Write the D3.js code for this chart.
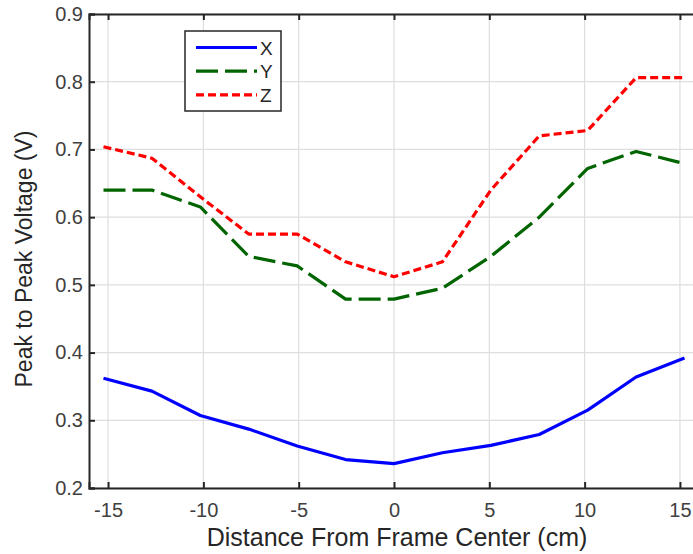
<!DOCTYPE html>
<html>
<head>
<meta charset="utf-8">
<script src="https://cdn.jsdelivr.net/npm/d3@7"></script>
<style>
  body { margin: 0; background: #fff; }
  svg { font-family: "Liberation Sans", Arial, sans-serif; }
</style>
</head>
<body>
<div id="chart"></div>
<script>
// ===========Data (positions in cm, 1 inch steps)
var distances = [-15.24, -12.7, -10.16, -7.62, -5.08, -2.54, 0, 2.54, 5.08, 7.62, 10.16, 12.7, 15.24];
var xValues = [0.362, 0.343, 0.307, 0.287, 0.262, 0.242, 0.236, 0.252, 0.263, 0.279, 0.315, 0.364, 0.392];
var yValues = [0.640, 0.640, 0.615, 0.542, 0.528, 0.479, 0.479, 0.495, 0.542, 0.600, 0.672, 0.697, 0.679];
var zValues = [0.704, 0.687, 0.630, 0.575, 0.575, 0.534, 0.512, 0.534, 0.640, 0.720, 0.728, 0.806, 0.806];
var xTicks = [-15, -10, -5, 0, 5, 10, 15];
var yTicks = [0.2, 0.3, 0.4, 0.5, 0.6, 0.7, 0.8, 0.9];
var seriesNames = ["X", "Y", "Z"];

// ===========Set Height, Width and Margins
var svgWidth = 693;
var svgHeight = 554;
var margin = { top: 14, left: 89 };
var width = 610;   // right edge sits just past the window
var height = 474;

var svg = d3.select("#chart").append("svg")
    .attr("width", svgWidth)
    .attr("height", svgHeight);

var chartGroup = svg.append("g")
    .attr("transform", `translate(${margin.left}, ${margin.top})`);

// ==========Scales
var xScale = d3.scaleLinear().domain([-16, 16]).range([0, width]);
var yScale = d3.scaleLinear().domain([0.2, 0.9]).range([height, 0]);

// ==========Grid lines
chartGroup.append("g")
    .selectAll("line")
    .data(xTicks)
    .enter()
    .append("line")
    .attr("x1", d => xScale(d)).attr("x2", d => xScale(d))
    .attr("y1", 0).attr("y2", height)
    .attr("stroke", "#dedede").attr("stroke-width", 1.2);

chartGroup.append("g")
    .selectAll("line")
    .data(yTicks)
    .enter()
    .append("line")
    .attr("x1", 0).attr("x2", width)
    .attr("y1", d => yScale(d)).attr("y2", d => yScale(d))
    .attr("stroke", "#dedede").attr("stroke-width", 1.2);

// ==========Axes (ticks inside, MATLAB style)
var bottomAxis = d3.axisBottom(xScale).tickValues(xTicks).tickSize(-6).tickPadding(15).tickFormat(d => String(d));
var leftAxis = d3.axisLeft(yScale).tickValues(yTicks).tickSize(-6).tickPadding(6).tickFormat(d3.format(".1f"));
var topAxis = d3.axisTop(xScale).tickValues(xTicks).tickSize(-6).tickFormat("");
var rightAxis = d3.axisRight(yScale).tickValues(yTicks).tickSize(-6).tickFormat("");

function styleAxis(g) {
    g.select(".domain").attr("stroke", "#262626").attr("stroke-width", 2);
    g.selectAll(".tick line").attr("stroke", "#262626").attr("stroke-width", 2);
    g.selectAll(".tick text").attr("fill", "#404040").style("font-size", "20px");
}

chartGroup.append("g").attr("transform", `translate(0, ${height})`).call(bottomAxis).call(styleAxis);
chartGroup.append("g").call(leftAxis).call(styleAxis);
chartGroup.append("g").call(topAxis).call(styleAxis);
chartGroup.append("g").attr("transform", `translate(${width}, 0)`).call(rightAxis).call(styleAxis);

// ==========Lines
var series = [
    { name: "X", values: xValues, color: "#0000ff", dash: null },
    { name: "Y", values: yValues, color: "#006400", dash: "22,7" },
    { name: "Z", values: zValues, color: "#ff0000", dash: "8,4" }
];

var line = d3.line()
    .x((d, i) => xScale(distances[i]))
    .y(d => yScale(d));

chartGroup.selectAll(".series")
    .data(series)
    .enter()
    .append("path")
    .attr("class", "series")
    .attr("d", d => line(d.values))
    .attr("fill", "none")
    .attr("stroke", d => d.color)
    .attr("stroke-width", 3.2)
    .attr("stroke-dasharray", d => d.dash)
    .attr("stroke-linejoin", "round");

// ==========Legend
var legend = svg.append("g").attr("transform", "translate(185, 31)");
legend.append("rect")
    .attr("width", 96).attr("height", 80)
    .attr("fill", "#fff").attr("stroke", "#262626").attr("stroke-width", 1.5);

var legendItems = legend.selectAll(".item")
    .data(series)
    .enter()
    .append("g")
    .attr("transform", (d, i) => `translate(0, ${16.5 + i * 23.7})`);

legendItems.append("line")
    .attr("x1", 11).attr("x2", 72)
    .attr("stroke", d => d.color)
    .attr("stroke-width", 3.2)
    .attr("stroke-dasharray", d => d.dash);

legendItems.append("text")
    .attr("x", 75).attr("y", 7)
    .attr("fill", "#262626")
    .style("font-size", "19px")
    .text((d, i) => seriesNames[i]);

// ==========Axis labels
svg.append("text")
    .attr("x", 397).attr("y", 546)
    .attr("text-anchor", "middle")
    .attr("fill", "#262626")
    .style("font-size", "25px")
    .text("Distance From Frame Center (cm)");

svg.append("text")
    .attr("transform", "translate(32, 259) rotate(-90)")
    .attr("text-anchor", "middle")
    .attr("fill", "#262626")
    .style("font-size", "23px")
    .text("Peak to Peak Voltage (V)");
</script>
</body>
</html>
